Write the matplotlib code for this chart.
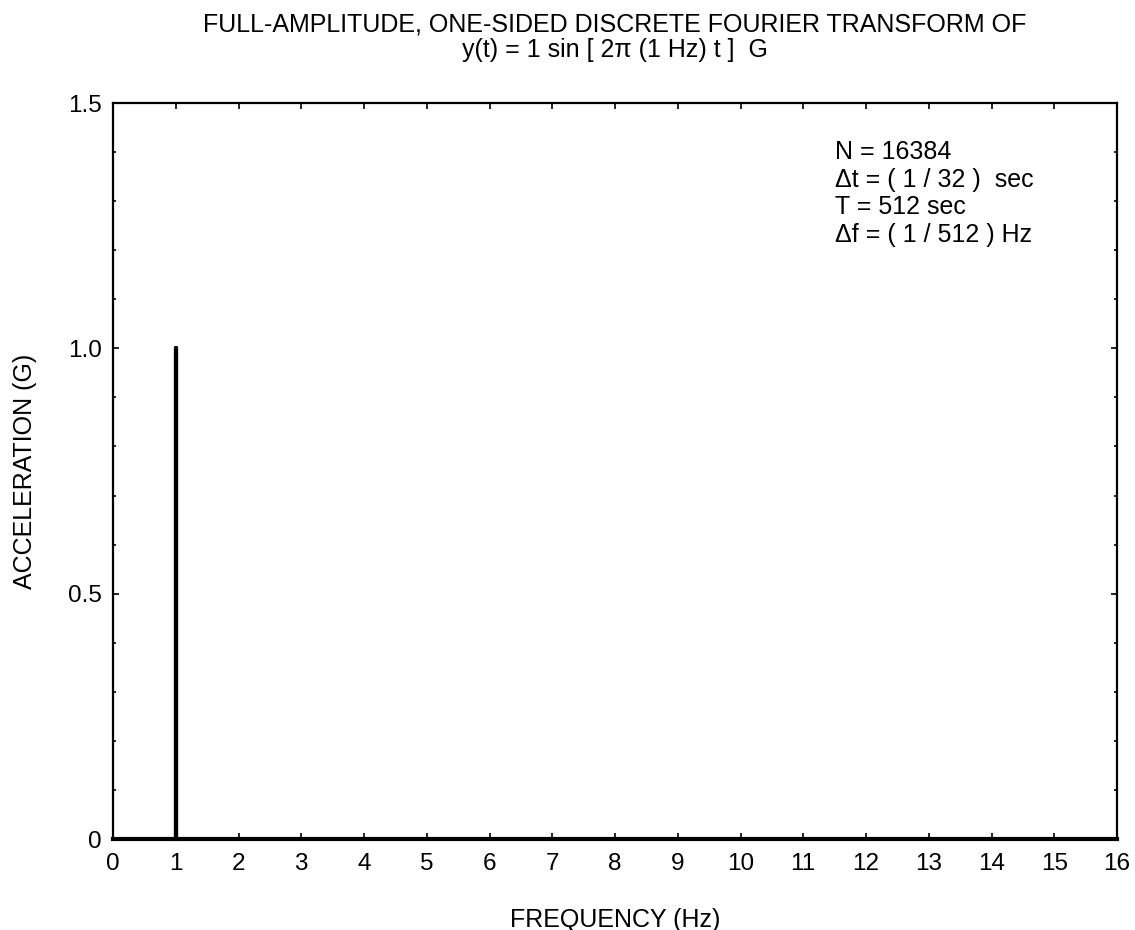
import matplotlib
matplotlib.use("Agg")
import matplotlib.pyplot as plt
from matplotlib.ticker import MultipleLocator

plt.rcParams['font.family'] = ['Liberation Sans', 'DejaVu Sans']

# one-sided DFT of a 1 G, 1 Hz sine: a single line at 1 Hz, zero elsewhere
freq_hz = [0.0, 1.0, 1.0, 1.0, 16.0]
accel_g = [0.0, 0.0, 1.0, 0.0, 0.0]

x_ticks = list(range(0, 17))
y_ticks = [0, 0.5, 1.0, 1.5]
y_tick_labels = ['0', '0.5', '1.0', '1.5']

info_lines = [
    "N = 16384",
    "\u0394t = ( 1 / 32 )  sec",
    "T = 512 sec",
    "\u0394f = ( 1 / 512 ) Hz",
]

fig = plt.figure(figsize=(11.35, 9.3), dpi=100)
ax = fig.add_axes([113 / 1135, 1 - 839 / 930, (1117 - 113) / 1135, (839 - 103) / 930])

ax.plot(freq_hz, accel_g, color='black', linewidth=3, clip_on=False, zorder=3)

ax.set_xlim(0, 16)
ax.set_ylim(0, 1.5)
ax.set_xticks(x_ticks)
ax.set_xticklabels([str(t) for t in x_ticks])
ax.set_yticks(y_ticks)
ax.set_yticklabels(y_tick_labels)
ax.yaxis.set_minor_locator(MultipleLocator(0.1))

ax.tick_params(which='both', direction='in', top=True, right=True, labelsize=17.5, width=1.2)
ax.tick_params(axis='x', which='major', length=4, pad=10)
ax.tick_params(axis='y', which='major', length=4, pad=8)
ax.tick_params(which='minor', length=2)
for s in ax.spines.values():
    s.set_linewidth(1.6)

ax.set_xlabel("FREQUENCY (Hz)", fontsize=18, labelpad=24)
ax.set_ylabel("ACCELERATION (G)", fontsize=18, labelpad=22)

fig.text(0.542, 0.974, "FULL-AMPLITUDE, ONE-SIDED DISCRETE FOURIER TRANSFORM OF",
         ha='center', va='center', fontsize=18)
fig.text(0.542, 0.946, "y(t) = 1 sin [ 2\u03c0 (1 Hz) t ]  G",
         ha='center', va='center', fontsize=18)

ax.text(0.719, 0.950, "\n".join(info_lines), transform=ax.transAxes,
        ha='left', va='top', fontsize=18, linespacing=1.2)

fig.savefig("out.png", dpi=100)
